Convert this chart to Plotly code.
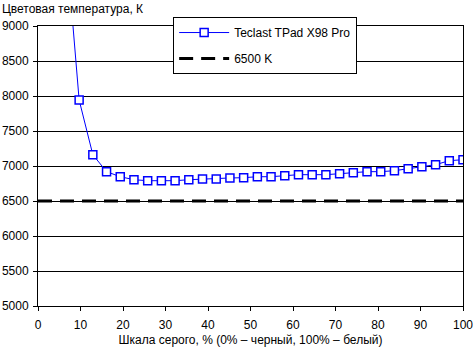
import plotly.graph_objects as go

n_points = 32
gray_pct = [i * 100 / 31 for i in range(2, n_points)]
color_temp = [10300, 7943, 7161, 6919, 6847, 6804, 6790, 6790, 6790, 6804, 6814, 6814, 6829,
              6833, 6847, 6847, 6861, 6876, 6876, 6876, 6890, 6904, 6919, 6919, 6933,
              6961, 6990, 7019, 7076, 7090]
ref_x = [0, 100]
ref_y = [6500, 6500]

series_name = "Teclast TPad X98 Pro"
ref_name = "6500 K"
y_title = "Цветовая температура, К"
x_title = "Шкала серого, % (0% – черный, 100% – белый)"

font = dict(family="Liberation Sans, Arial, sans-serif", size=12, color="black")

fig = go.Figure()
fig.add_trace(go.Scatter(
    x=gray_pct, y=color_temp, name=series_name, mode="lines+markers",
    line=dict(color="#0000ff", width=1),
    marker=dict(symbol="square", size=8, color="white", line=dict(color="#0000ff", width=1.5)),
    legendgroup="a", cliponaxis=True,
))
fig.add_trace(go.Scatter(
    x=ref_x, y=ref_y, name=ref_name, mode="lines",
    line=dict(color="black", width=3, dash="14px,8px"),
    legendgroup="b",
))

fig.update_layout(
    width=473, height=349,
    margin=dict(l=38, r=10, t=26, b=43, autoexpand=False),
    paper_bgcolor="white", plot_bgcolor="white",
    font=font,
    showlegend=True,
    legend=dict(
        x=0.318, y=1.032, xanchor="left", yanchor="top",
        bgcolor="white", bordercolor="black", borderwidth=1,
        traceorder="grouped", tracegroupgap=7,
        font=font, itemwidth=50,
    ),
    title=dict(text=y_title, x=0.004, xref="container", xanchor="left",
               y=1 - 9 / 349, yref="container", yanchor="middle", font=font),
    xaxis=dict(
        range=[0, 100], tickmode="linear", tick0=0, dtick=10,
        showgrid=False, zeroline=False, automargin=False,
        showline=True, linecolor="black", linewidth=1, mirror=True,
        ticks="outside", ticklen=4, tickcolor="black",
        title=dict(text=x_title, font=font, standoff=4),
        tickfont=font, ticklabeloverflow="allow", ticklabelstandoff=4,
    ),
    yaxis=dict(
        range=[5000, 9000], tickmode="linear", tick0=5000, dtick=500,
        showgrid=True, gridcolor="black", gridwidth=1, zeroline=False, automargin=False,
        showline=True, linecolor="black", linewidth=1, mirror=True,
        ticks="outside", ticklen=4, tickcolor="black",
        tickfont=font, ticklabeloverflow="allow", ticklabelstandoff=2,
    ),
)

fig.write_html("out.html")
